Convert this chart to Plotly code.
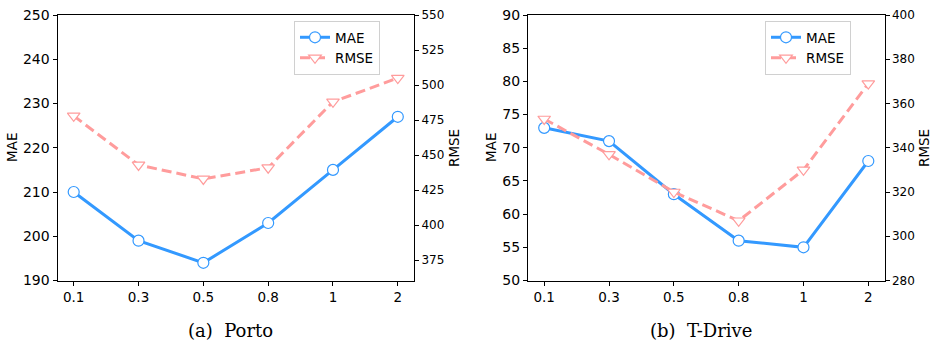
import plotly.graph_objects as go

W, H = 939, 344

x_labels = ["0.1", "0.3", "0.5", "0.8", "1", "2"]

porto_mae = [210, 199, 194, 203, 215, 227]
porto_rmse = [478, 443, 433, 441, 488, 505]

tdrive_mae = [73, 71, 63, 56, 55, 68]
tdrive_rmse = [353, 337, 320, 307, 330, 369]

captions = ["(a)  Porto", "(b)  T-Drive"]

BLUE = "#3399ff"
PINK = "#ff9c9c"
SANS = "DejaVu Sans"

def px_x(p):
    return p / W

def px_y(p):
    return 1 - p / H

fig = go.Figure()

def add_pair(mae, rmse, xa, ya, ya2, legend):
    fig.add_trace(go.Scatter(
        x=x_labels, y=mae, name="MAE", xaxis=xa, yaxis=ya, legend=legend,
        mode="lines+markers",
        line=dict(color=BLUE, width=3),
        marker=dict(symbol="circle", size=11, color="white",
                    line=dict(color=BLUE, width=1.2)),
    ))
    fig.add_trace(go.Scatter(
        x=x_labels, y=rmse, name="RMSE", xaxis=xa, yaxis=ya2, legend=legend,
        mode="lines+markers",
        line=dict(color=PINK, width=3, dash="10px,5px"),
        marker=dict(symbol="triangle-down", size=11, color="white",
                    line=dict(color=PINK, width=1.2)),
    ))

add_pair(porto_mae, porto_rmse, "x", "y", "y2", "legend")
add_pair(tdrive_mae, tdrive_rmse, "x2", "y3", "y4", "legend2")

top, bot = 15, 280.5
ydom = [px_y(bot), px_y(top)]
doms = [[px_x(57.5), px_x(414)], [px_x(528), px_x(884.5)]]

axline = dict(showline=True, linecolor="black", linewidth=1, showgrid=False,
              zeroline=False, ticks="outside", ticklen=4, tickwidth=1,
              tickcolor="black", automargin=False)

xcommon = dict(axline, type="category", range=[-0.25, 5.25], mirror=True,
               tickfont=dict(family=SANS, size=13.5, color="black"))

fig.update_layout(
    xaxis=dict(xcommon, domain=doms[0], anchor="y"),
    xaxis2=dict(xcommon, domain=doms[1], anchor="y3"),
    yaxis=dict(axline, domain=ydom, anchor="x", range=[190, 250], dtick=10,
               tickfont=dict(family=SANS, size=14, color="black")),
    yaxis2=dict(axline, overlaying="y", side="right", anchor="x",
                range=[360.5, 550], tickvals=[375, 400, 425, 450, 475, 500, 525, 550],
                tickfont=dict(family=SANS, size=12, color="black")),
    yaxis3=dict(axline, domain=ydom, anchor="x2", range=[50, 90], dtick=5,
                tickfont=dict(family=SANS, size=14, color="black")),
    yaxis4=dict(axline, overlaying="y3", side="right", anchor="x2",
                range=[280, 400], dtick=20,
                tickfont=dict(family=SANS, size=12, color="black")),
)

leg = dict(bgcolor="rgba(255,255,255,0.8)", bordercolor="#d0d0d0", borderwidth=1,
           font=dict(family=SANS, size=13.5, color="black"),
           xanchor="left", yanchor="top", itemwidth=30, tracegroupgap=0)
fig.update_layout(
    legend=dict(leg, x=px_x(294), y=px_y(21)),
    legend2=dict(leg, x=px_x(765), y=px_y(21)),
)

ann = []
for cx, txt in zip([230, 701], captions):
    ann.append(dict(x=px_x(cx), y=px_y(330), xref="paper", yref="paper",
                    text=txt, showarrow=False, xanchor="center", yanchor="middle",
                    font=dict(family="DejaVu Serif", size=18, color="black")))
for cx, txt in [(12, "MAE"), (454, "RMSE"), (491, "MAE"), (924, "RMSE")]:
    ann.append(dict(x=px_x(cx), y=px_y(148), xref="paper", yref="paper",
                    text=txt, showarrow=False, xanchor="center", yanchor="middle",
                    textangle=-90,
                    font=dict(family=SANS, size=13.5, color="black")))

fig.update_layout(
    annotations=ann,
    width=W, height=H, margin=dict(l=0, r=0, t=0, b=0, autoexpand=False),
    paper_bgcolor="white", plot_bgcolor="white", showlegend=True,
)

fig.write_html(
    "out.html",
    config={"displayModeBar": False},
    post_script="document.body.style.margin='0';document.body.style.padding='0';"
                "document.documentElement.style.overflow='hidden';",
)
